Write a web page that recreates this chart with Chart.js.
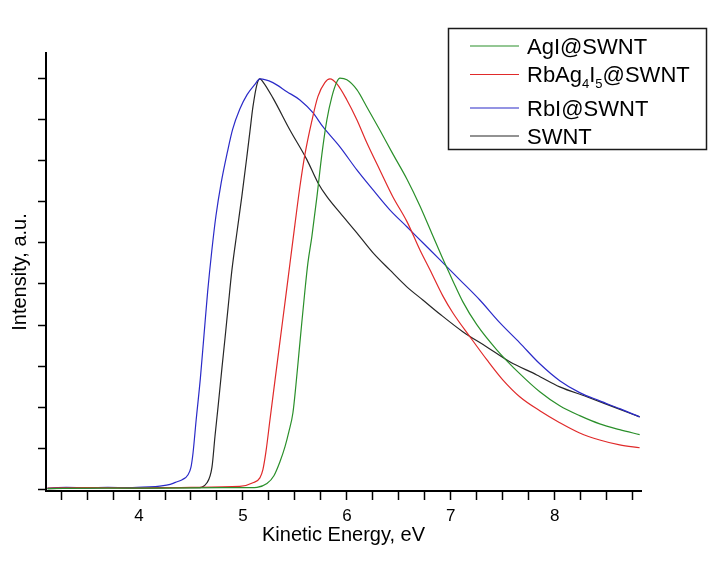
<!DOCTYPE html>
<html>
<head>
<meta charset="utf-8">
<script src="https://cdn.jsdelivr.net/npm/chart.js@4.4.1/dist/chart.umd.min.js"></script>
<style>
html,body{margin:0;padding:0;background:#ffffff;}
#wrap{width:723px;height:563px;position:relative;}
</style>
</head>
<body>
<div id="wrap"><canvas id="c" width="723" height="563"></canvas></div>
<script>
// ---- data ----
const xTickLabels = ['4', '5', '6', '7', '8'];
const seriesLabels = ['AgI@SWNT', 'RbAg\u2084I\u2085@SWNT', 'RbI@SWNT', 'SWNT'];
const xAxisTitle = 'Kinetic Energy, eV';
const yAxisTitle = 'Intensity, a.u.';

const agiEnergy    = [3.12, 3.6, 4.2, 4.8, 5.0, 5.135, 5.231, 5.298, 5.356, 5.404, 5.442, 5.481, 5.51, 5.538, 5.567, 5.596, 5.625, 5.663, 5.712, 5.76, 5.808, 5.856, 5.904, 5.933, 6.0, 6.096, 6.192, 6.317, 6.442, 6.577, 6.702, 6.827, 6.923, 7.019, 7.115, 7.25, 7.442, 7.663, 7.856, 8.048, 8.24, 8.433, 8.625, 8.817];
const agiIntensity = [0.003, 0.004, 0.004, 0.005, 0.005, 0.006, 0.015, 0.034, 0.068, 0.104, 0.141, 0.187, 0.255, 0.33, 0.408, 0.483, 0.551, 0.615, 0.712, 0.816, 0.899, 0.955, 0.991, 1.0, 0.996, 0.972, 0.93, 0.874, 0.816, 0.755, 0.69, 0.617, 0.561, 0.508, 0.457, 0.401, 0.34, 0.282, 0.238, 0.204, 0.18, 0.16, 0.146, 0.134];

const rbagEnergy    = [3.12, 3.5, 4.0, 4.5, 4.97, 5.096, 5.163, 5.192, 5.221, 5.26, 5.308, 5.356, 5.404, 5.452, 5.5, 5.548, 5.596, 5.663, 5.721, 5.788, 5.837, 5.904, 6.0, 6.096, 6.192, 6.317, 6.442, 6.577, 6.702, 6.798, 6.923, 7.019, 7.183, 7.346, 7.5, 7.663, 7.856, 8.048, 8.24, 8.433, 8.625, 8.817];
const rbagIntensity = [0.004, 0.005, 0.004, 0.006, 0.008, 0.017, 0.029, 0.049, 0.092, 0.17, 0.265, 0.36, 0.454, 0.549, 0.644, 0.736, 0.814, 0.896, 0.955, 0.989, 0.998, 0.986, 0.947, 0.899, 0.843, 0.777, 0.712, 0.652, 0.583, 0.535, 0.471, 0.43, 0.372, 0.316, 0.267, 0.226, 0.192, 0.163, 0.138, 0.121, 0.109, 0.102];

const rbiEnergy    = [3.12, 3.3, 3.5, 3.7, 3.9, 4.1, 4.2, 4.30, 4.35, 4.42, 4.47, 4.50, 4.52, 4.55, 4.59, 4.625, 4.66, 4.70, 4.74, 4.79, 4.85, 4.90, 4.97, 5.04, 5.115, 5.163, 5.288, 5.423, 5.548, 5.673, 5.769, 5.933, 6.096, 6.25, 6.413, 6.577, 6.731, 6.894, 7.087, 7.279, 7.471, 7.663, 7.856, 8.048, 8.24, 8.433, 8.625, 8.817];
const rbiIntensity = [0.004, 0.006, 0.004, 0.006, 0.005, 0.007, 0.009, 0.013, 0.018, 0.025, 0.036, 0.055, 0.09, 0.17, 0.27, 0.375, 0.48, 0.58, 0.665, 0.745, 0.82, 0.875, 0.925, 0.96, 0.985, 0.998, 0.989, 0.967, 0.947, 0.916, 0.882, 0.833, 0.777, 0.729, 0.68, 0.639, 0.6, 0.559, 0.51, 0.461, 0.406, 0.357, 0.306, 0.265, 0.236, 0.216, 0.197, 0.177];

const swntEnergy    = [3.12, 3.4, 3.7, 4.0, 4.3, 4.56, 4.654, 4.702, 4.731, 4.76, 4.798, 4.827, 4.856, 4.894, 4.942, 4.99, 5.038, 5.067, 5.096, 5.135, 5.163, 5.192, 5.288, 5.452, 5.615, 5.721, 5.808, 5.933, 6.096, 6.25, 6.413, 6.577, 6.731, 6.894, 7.115, 7.346, 7.567, 7.827, 8.048, 8.308, 8.558, 8.817];
const swntIntensity = [0.003, 0.004, 0.005, 0.004, 0.005, 0.005, 0.017, 0.055, 0.13, 0.2, 0.296, 0.367, 0.44, 0.534, 0.625, 0.714, 0.81, 0.87, 0.93, 0.985, 0.998, 0.991, 0.952, 0.874, 0.802, 0.746, 0.712, 0.673, 0.624, 0.576, 0.534, 0.493, 0.461, 0.427, 0.384, 0.347, 0.311, 0.279, 0.25, 0.226, 0.202, 0.177];

const seriesColors = ['#2a8f2a', '#e02a2a', '#2a2ac8', '#262626'];

function toPoints(xs, ys) { return xs.map((x, i) => ({ x: x, y: ys[i] })); }

const energies = [agiEnergy, rbagEnergy, rbiEnergy, swntEnergy];
const intensities = [agiIntensity, rbagIntensity, rbiIntensity, swntIntensity];

const datasets = seriesLabels.map((label, i) => ({
  label: label,
  data: toPoints(energies[i], intensities[i]),
  borderColor: seriesColors[i],
  backgroundColor: seriesColors[i],
  borderWidth: 1.2,
  pointRadius: 0,
  fill: false,
  cubicInterpolationMode: 'monotone'
}));

const FONT = "'Liberation Sans', Arial, sans-serif";
Chart.defaults.font.family = FONT;
Chart.defaults.color = '#000';

// legend box with subscript support, drawn on the canvas
const legendBox = {
  id: 'legendBox',
  afterDraw(chart) {
    const ctx = chart.ctx;
    const box = { x: 448.5, y: 28.5, w: 258, h: 121 };
    const baselines = [53.5, 82, 116, 143.5];
    const lineYs = [46, 74.5, 108, 136];
    ctx.save();
    ctx.fillStyle = '#fff';
    ctx.fillRect(box.x, box.y, box.w, box.h);
    ctx.strokeStyle = '#1a1a1a';
    ctx.lineWidth = 1.5;
    ctx.strokeRect(box.x, box.y, box.w, box.h);
    chart.data.datasets.forEach((ds, i) => {
      ctx.strokeStyle = ds.borderColor;
      ctx.lineWidth = 1.2;
      ctx.beginPath();
      ctx.moveTo(470, lineYs[i]);
      ctx.lineTo(519, lineYs[i]);
      ctx.stroke();
      const runs = [];
      for (const ch of ds.label) {
        const code = ch.charCodeAt(0);
        const sub = code >= 0x2080 && code <= 0x2089;
        const c = sub ? String.fromCharCode(48 + code - 0x2080) : ch;
        if (runs.length && runs[runs.length - 1].sub === sub) runs[runs.length - 1].t += c;
        else runs.push({ t: c, sub: sub });
      }
      let x = 527;
      ctx.fillStyle = '#000';
      ctx.textBaseline = 'alphabetic';
      ctx.textAlign = 'left';
      runs.forEach(r => {
        ctx.font = (r.sub ? '13px ' : '22px ') + FONT;
        const y = baselines[i] + (r.sub ? 6 : 0);
        ctx.fillText(r.t, x, y);
        x += ctx.measureText(r.t).width;
      });
    });
    ctx.restore();
  }
};

new Chart(document.getElementById('c'), {
  type: 'line',
  data: { datasets: datasets },
  plugins: [legendBox],
  options: {
    responsive: false,
    animation: false,
    devicePixelRatio: 1,
    layout: { padding: { left: 0, top: 53, right: 82, bottom: 0 } },
    plugins: { legend: { display: false }, tooltip: { enabled: false }, title: { display: false } },
    scales: {
      x: {
        type: 'linear',
        min: 3.105,
        max: 8.83,
        afterFit: s => { s.height = 72; },
        grid: { drawOnChartArea: false, drawTicks: true, tickLength: 9, color: '#000', tickWidth: 1.5 },
        border: { display: true, color: '#000', width: 2 },
        ticks: {
          stepSize: 0.25,
          includeBounds: false,
          autoSkip: false,
          maxRotation: 0,
          maxTicksLimit: 100,
          padding: 6,
          color: '#000',
          font: { size: 17, family: FONT },
          callback: v => {
            const s = String(Math.round(v * 100) / 100);
            return xTickLabels.includes(s) ? s : '';
          }
        },
        title: { display: true, text: xAxisTitle, color: '#000', font: { size: 20, family: FONT }, padding: { top: 0, bottom: 16 } }
      },
      y: {
        type: 'linear',
        min: -0.003,
        max: 1.061,
        afterFit: s => { s.width = 46; },
        grid: { drawOnChartArea: false, drawTicks: true, tickLength: 8, color: '#000', tickWidth: 1.5 },
        border: { display: true, color: '#000', width: 2 },
        ticks: { display: false, stepSize: 0.1, includeBounds: false, autoSkip: false },
        title: { display: true, text: yAxisTitle, color: '#000', font: { size: 20, family: FONT }, padding: { top: 8, bottom: 0 } }
      }
    }
  }
});
</script>
</body>
</html>
